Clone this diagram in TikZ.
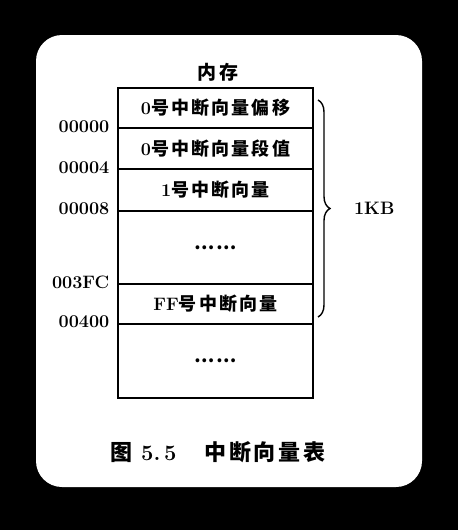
\documentclass[tikz,border=0pt]{standalone}
\usepackage{fontspec}
\newfontfamily\cjk{Noto Sans CJK SC}[LetterSpace=12]
\usetikzlibrary{positioning,decorations.pathreplacing}

\begin{document}
\begin{tikzpicture}[x=1pt,y=-1pt,line width=1.4pt,
  cell/.style={draw,minimum width=195pt,inner sep=0pt,outer sep=0pt,font=\fontsize{18}{20}\selectfont\bfseries},
  addr/.style={anchor=east,font=\fontsize{18}{20}\selectfont\bfseries,inner sep=1pt}]
  \fill[black] (0,0) rectangle (458,530);
  \fill[white,rounded corners=26pt] (36,35) rectangle (422,487);
  \useasboundingbox (0,0) rectangle (458,530);

  \node (title) at (218,72) {\fontsize{19}{22}\selectfont\bfseries\cjk 内存};

  % memory cells
  \node[cell,minimum height=40pt] (m0) at (215.5,108) {0\cjk 号中断向量偏移};
  \node[cell,minimum height=41pt,below=0pt of m0] (m1) {0\cjk 号中断向量段值};
  \node[cell,minimum height=42pt,below=0pt of m1] (m2) {1\cjk 号中断向量};
  \node[cell,minimum height=73pt,below=0pt of m2] (m3) {\cjk ……};
  \node[cell,minimum height=40pt,below=0pt of m3] (m4) {FF\cjk 号中断向量};
  \node[cell,minimum height=74pt,below=0pt of m4] (m5) {\cjk ……};

  % addresses
  \node[addr] (a0) at ([xshift=-7pt,yshift=1pt]m0.south west) {00000};
  \node[addr] (a1) at ([xshift=-7pt,yshift=1pt]m1.south west) {00004};
  \node[addr] (a2) at ([xshift=-7pt,yshift=2pt]m2.south west) {00008};
  \node[addr] (a3) at ([xshift=-7pt,yshift=2pt]m3.south west) {003FC};
  \node[addr] (a4) at ([xshift=-7pt,yshift=2pt]m4.south west) {00400};

  % 1KB brace
  \coordinate (btop) at (318,100);
  \coordinate (bbot) at (318,317);
  \draw[decorate,decoration={brace,amplitude=12pt}] (btop) -- (bbot)
    node[midway,right=32pt,font=\fontsize{18}{20}\selectfont\bfseries] (kb) {1KB};

  \node (cap) at (218,452) {\fontsize{22}{26}\selectfont\bfseries{\cjk 图}\ 5.\,5\hspace{28pt}{\cjk 中断向量表}};
\end{tikzpicture}
\end{document}
